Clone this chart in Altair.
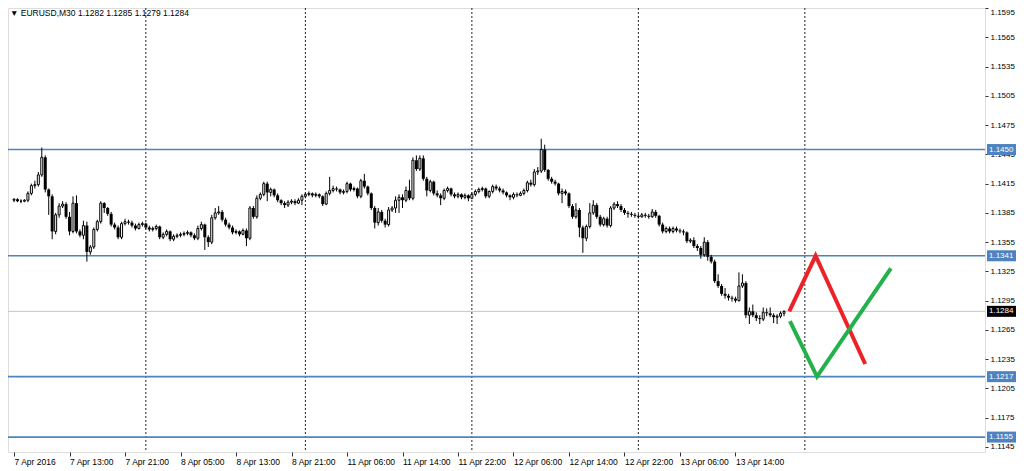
import json
import altair as alt
import pandas as pd

# ---- data (prices in 1/10000) ----
opens = [11398,11399,11397,11397,11398,11405,11413,11414,11424,11442,
         11409,11402,11366,11383,11392,11394,11381,11366,11395,11366,
         11362,11372,11345,11350,11368,11376,11395,11390,11384,11373,
         11370,11360,11374,11376,11375,11372,11369,11373,11374,11370,
         11368,11369,11371,11360,11363,11366,11358,11361,11362,11363,
         11364,11365,11362,11359,11369,11373,11360,11355,11380,11385,
         11386,11378,11373,11370,11365,11366,11363,11367,11359,11390,
         11381,11400,11404,11415,11406,11409,11403,11398,11395,11393,
         11396,11397,11395,11398,11402,11404,11405,11403,11404,11402,
         11394,11405,11408,11410,11409,11406,11407,11415,11409,11410,
         11402,11418,11412,11405,11390,11375,11386,11377,11373,11388,
         11390,11398,11401,11398,11408,11400,11439,11430,11441,11420,
         11408,11417,11405,11403,11400,11408,11410,11404,11402,11404,
         11401,11403,11400,11404,11407,11409,11410,11402,11407,11412,
         11410,11408,11406,11403,11401,11404,11403,11405,11408,11416,
         11414,11427,11428,11450,11429,11420,11417,11415,11405,11407,
         11405,11392,11381,11388,11370,11359,11371,11385,11393,11381,
         11373,11379,11372,11390,11394,11392,11388,11385,11384,11383,
         11382,11381,11383,11382,11381,11386,11382,11373,11366,11369,
         11366,11369,11367,11366,11365,11356,11357,11351,11349,11342,
         11355,11340,11335,11315,11310,11302,11300,11298,11297,11295,
         11310,11313,11280,11284,11280,11277,11276,11283,11282,11280,
         11278,11279,11282]
highs = [11400,11400,11399,11399,11407,11415,11418,11427,11452,11444,
         11410,11404,11385,11395,11397,11396,11386,11402,11403,11368,
         11377,11376,11352,11370,11378,11397,11396,11391,11386,11375,
         11372,11376,11379,11378,11377,11374,11375,11376,11375,11372,
         11371,11373,11372,11365,11368,11367,11363,11364,11365,11366,
         11367,11366,11364,11372,11376,11374,11362,11383,11390,11392,
         11388,11380,11375,11372,11368,11367,11369,11369,11392,11392,
         11403,11406,11417,11417,11411,11410,11405,11399,11397,11398,
         11399,11399,11400,11404,11406,11407,11406,11406,11405,11403,
         11407,11422,11413,11412,11410,11409,11417,11416,11412,11411,
         11420,11425,11413,11406,11392,11390,11388,11379,11391,11392,
         11402,11404,11404,11412,11419,11442,11444,11444,11444,11422,
         11419,11418,11408,11405,11410,11412,11411,11406,11406,11405,
         11405,11404,11406,11409,11411,11412,11411,11408,11414,11414,
         11412,11410,11407,11404,11406,11406,11407,11410,11418,11419,
         11430,11432,11461,11455,11430,11422,11419,11416,11410,11409,
         11406,11394,11395,11390,11372,11373,11395,11398,11395,11383,
         11381,11381,11392,11396,11397,11394,11390,11387,11386,11385,
         11384,11385,11385,11384,11389,11388,11383,11375,11371,11371,
         11371,11371,11369,11368,11366,11359,11360,11353,11351,11360,
         11357,11342,11337,11322,11312,11308,11302,11300,11299,11324,
         11322,11315,11288,11291,11283,11280,11288,11287,11288,11282,
         11281,11284,11285]
lows = [11396,11396,11395,11396,11396,11403,11410,11412,11422,11406,
        11383,11358,11363,11380,11390,11379,11362,11364,11364,11360,
        11358,11335,11342,11348,11366,11374,11385,11382,11371,11368,
        11358,11358,11372,11373,11370,11367,11368,11371,11368,11366,
        11366,11367,11358,11358,11361,11356,11356,11359,11360,11361,
        11362,11360,11357,11357,11367,11347,11350,11353,11378,11383,
        11376,11371,11368,11363,11363,11361,11362,11351,11357,11379,
        11379,11398,11402,11397,11402,11401,11396,11393,11390,11391,
        11394,11393,11394,11393,11400,11402,11401,11401,11400,11392,
        11393,11403,11406,11407,11404,11404,11405,11407,11407,11400,
        11400,11410,11403,11388,11369,11372,11375,11370,11371,11386,
        11385,11385,11390,11396,11398,11398,11428,11428,11418,11402,
        11406,11403,11401,11393,11398,11406,11402,11400,11400,11399,
        11399,11397,11399,11402,11405,11407,11400,11400,11405,11408,
        11406,11404,11401,11398,11399,11401,11402,11403,11406,11412,
        11412,11424,11426,11427,11418,11415,11413,11403,11395,11403,
        11390,11379,11379,11360,11344,11356,11369,11383,11379,11371,
        11371,11370,11370,11388,11390,11386,11383,11380,11381,11380,
        11379,11380,11380,11379,11380,11380,11371,11364,11364,11364,
        11364,11365,11364,11362,11354,11354,11349,11346,11338,11340,
        11336,11333,11313,11308,11300,11297,11295,11294,11293,11294,
        11308,11277,11271,11278,11274,11271,11274,11279,11278,11272,
        11271,11277,11279]
closes = [11399,11397,11397,11398,11405,11413,11414,11424,11442,11409,
          11402,11366,11383,11392,11394,11381,11366,11395,11366,11362,
          11372,11345,11350,11368,11376,11395,11390,11384,11373,11370,
          11360,11374,11376,11375,11372,11369,11373,11374,11370,11368,
          11369,11371,11360,11363,11366,11358,11361,11362,11363,11364,
          11365,11362,11359,11369,11373,11360,11355,11380,11385,11386,
          11378,11373,11370,11365,11366,11363,11367,11359,11390,11381,
          11400,11404,11415,11406,11409,11403,11398,11395,11393,11396,
          11397,11395,11398,11402,11404,11405,11403,11404,11402,11394,
          11405,11408,11410,11409,11406,11407,11415,11409,11410,11402,
          11418,11412,11405,11390,11375,11386,11377,11373,11388,11390,
          11398,11401,11398,11408,11400,11439,11430,11441,11420,11408,
          11417,11405,11403,11400,11408,11410,11404,11402,11404,11401,
          11403,11400,11404,11407,11409,11410,11402,11407,11412,11410,
          11408,11406,11403,11401,11404,11403,11405,11408,11416,11414,
          11427,11428,11450,11429,11420,11417,11415,11405,11407,11405,
          11392,11381,11388,11370,11359,11371,11385,11393,11381,11373,
          11379,11372,11390,11394,11392,11388,11385,11384,11383,11382,
          11381,11383,11382,11381,11386,11382,11373,11366,11369,11366,
          11369,11367,11366,11365,11356,11357,11351,11349,11342,11355,
          11340,11335,11315,11310,11302,11300,11298,11297,11295,11310,
          11313,11280,11284,11280,11277,11276,11283,11282,11280,11278,
          11279,11282,11284]

tick_bars = [0, 16, 32, 48, 64, 80, 96, 112, 128, 144, 160, 176, 192, 208]
tick_labels = ["7 Apr 2016", "7 Apr 13:00", "7 Apr 21:00", "8 Apr 05:00",
               "8 Apr 13:00", "8 Apr 21:00", "11 Apr 06:00", "11 Apr 14:00",
               "11 Apr 22:00", "12 Apr 06:00", "12 Apr 14:00", "12 Apr 22:00",
               "13 Apr 06:00", "13 Apr 14:00"]
day_starts = [38, 84, 132, 180, 228]
price_ticks = [1.1595, 1.1565, 1.1535, 1.1505, 1.1475, 1.1445, 1.1415, 1.1385,
               1.1355, 1.1325, 1.1295, 1.1265, 1.1235, 1.1205, 1.1175, 1.1145]
blue_levels = [1.1450, 1.1341, 1.1217, 1.1155]
bid_price = 1.1284
red_x = [223.5, 231.1, 245.4]
red_y = [1.1284, 1.1341, 1.1230]
green_x = [223.7, 231.5, 252.8]
green_y = [1.1274, 1.1217, 1.1328]

# ---- tables ----
n = len(closes)
df = pd.DataFrame({
    "bar": list(range(n)),
    "open": [v / 10000 for v in opens],
    "high": [v / 10000 for v in highs],
    "low": [v / 10000 for v in lows],
    "close": [v / 10000 for v in closes],
})
df["bull"] = df["close"] >= df["open"]

FONT = "Liberation Sans, DejaVu Sans, sans-serif"
BLUE = "#4d83c0"
xs = alt.Scale(domain=[-0.3, 278.5], nice=False, zero=False)
ys = alt.Scale(domain=[1.11397, 1.15952], nice=False, zero=False)

label_expr = (json.dumps(tick_labels) + "[indexof(" + json.dumps(tick_bars) + ", datum.value)]")

x_axis = alt.Axis(orient="bottom", values=tick_bars, labelExpr=label_expr,
                  labelAlign="left", labelBaseline="top", tickSize=4, labelPadding=1,
                  domain=False, grid=False, tickColor="#333333", labelColor="black",
                  labelFont=FONT, labelFontSize=8.5, labelOverlap=False, labelFlush=False,
                  title=None)
y_axis = alt.Axis(orient="right", values=price_ticks, format=".4f",
                  labelAlign="left",
                  labelBaseline={"condition": {"test": "datum.value > 1.159", "value": "top"},
                                 "value": "middle"},
                  tickSize=3, labelPadding=2,
                  domain=False, grid=False, tickColor="#333333", labelColor="black",
                  labelFont=FONT, labelFontSize=8, labelOverlap=False, labelFlush=False,
                  title=None)


def X(field):
    return alt.X(field, scale=xs, axis=x_axis)


def Y(field):
    return alt.Y(field, scale=ys, axis=y_axis)


base = alt.Chart(df)

wicks = base.mark_rule(color="black", strokeWidth=1).encode(
    x=X("bar:Q"), y=Y("low:Q"), y2="high:Q")
bull_bodies = base.transform_filter("datum.bull").mark_bar(
    size=2, fill="white", stroke="black", strokeWidth=1).encode(
    x=X("bar:Q"), y=Y("open:Q"), y2="close:Q")
bear_bodies = base.transform_filter("!datum.bull").mark_bar(
    size=3, color="black").encode(
    x=X("bar:Q"), y=Y("open:Q"), y2="close:Q")

seps = alt.Chart(pd.DataFrame({"bar": day_starts})).mark_rule(
    color="#222222", strokeWidth=1, strokeDash=[2, 2]).encode(x=X("bar:Q"))

levels = alt.Chart(pd.DataFrame({"level": blue_levels})).mark_rule(
    color=BLUE, strokeWidth=1.6).encode(y=Y("level:Q"))

bid_line = alt.Chart(pd.DataFrame({"level": [bid_price]})).mark_rule(
    color="#c4c4c4", strokeWidth=1).encode(y=Y("level:Q"))

red_line = alt.Chart(pd.DataFrame({"x": red_x, "y": red_y})).mark_line(
    color="#ec2228", strokeWidth=4).encode(x=X("x:Q"), y=Y("y:Q"))
green_line = alt.Chart(pd.DataFrame({"x": green_x, "y": green_y})).mark_line(
    color="#23b14b", strokeWidth=4).encode(x=X("x:Q"), y=Y("y:Q"))

tag_df = pd.DataFrame({
    "level": blue_levels + [bid_price],
    "kind": ["level"] * len(blue_levels) + ["bid"],
    "text": [f"{v:.4f}" for v in blue_levels + [bid_price]],
})
tag_bg = alt.Chart(tag_df).mark_rule(strokeWidth=11, strokeCap="butt").encode(
    y=Y("level:Q"),
    x=alt.value(979), x2=alt.value(1008),
    color=alt.Color("kind:N", scale=alt.Scale(domain=["level", "bid"], range=[BLUE, "black"]),
                    legend=None),
)
tag_txt = alt.Chart(tag_df).mark_text(align="left", baseline="middle", font=FONT,
                                      fontSize=8, color="white").encode(
    y=Y("level:Q"), x=alt.value(981), text="text:N")

last = df.iloc[-1]
title_txt = "\u25bc EURUSD,M30  {:.4f} {:.4f} {:.4f} {:.4f}".format(
    last["open"], last["high"], last["low"], last["close"])
title = alt.Chart(pd.DataFrame({"t": [title_txt]})).mark_text(
    align="left", baseline="middle", font=FONT, fontSize=8.5, color="black").encode(
    x=alt.value(2), y=alt.value(5), text="t:N")

chart = alt.layer(
    seps, bid_line, levels, wicks, bull_bodies, bear_bodies,
    red_line, green_line, tag_bg, tag_txt, title
).properties(
    width=977, height=444,
    autosize=alt.AutoSizeParams(type="none"),
    padding={"left": 0, "top": 0, "right": 31, "bottom": 15},
).configure_view(stroke="#6f6f6f", strokeWidth=1).configure(background="white")

chart.save("out.html", embed_options={"renderer": "svg", "actions": False})
